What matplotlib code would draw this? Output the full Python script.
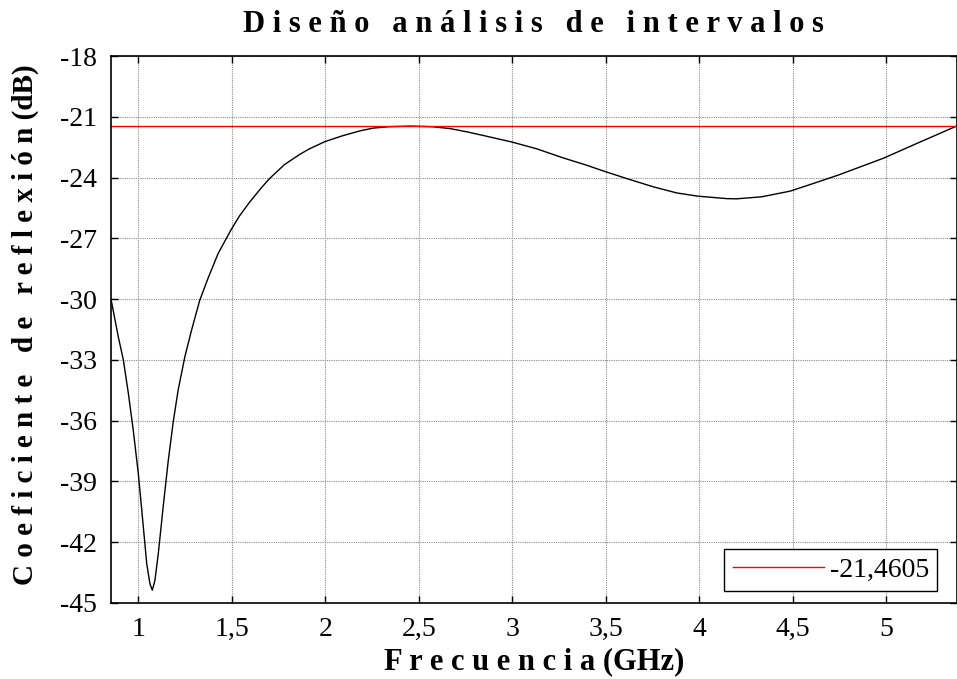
import matplotlib
matplotlib.use("Agg")
import matplotlib.pyplot as plt

plt.rcParams['font.family'] = ['Liberation Serif', 'DejaVu Serif']
plt.rcParams['axes.unicode_minus'] = False

# Frecuencia (GHz) y coeficiente de reflexion (dB) del diseño
freq = [0.855, 0.893, 0.920, 0.947, 0.973, 1.000, 1.027, 1.045, 1.062, 1.075,
        1.089, 1.107, 1.133, 1.160, 1.187, 1.213, 1.249, 1.285, 1.329, 1.374,
        1.427, 1.495, 1.541, 1.595, 1.657, 1.702, 1.782, 1.863, 1.916, 2.000,
        2.095, 2.184, 2.256, 2.340, 2.456, 2.570, 2.666, 2.756, 2.863, 3.000,
        3.131, 3.273, 3.398, 3.493, 3.613, 3.756, 3.881, 3.994, 4.149, 4.200,
        4.335, 4.487, 4.602, 4.744, 4.985, 5.154, 5.377]
s11 = [-30.05, -31.86, -33.00, -34.66, -36.47, -38.60, -41.25, -43.05, -44.04, -44.37,
       -43.88, -42.56, -40.26, -38.00, -36.05, -34.50, -32.85, -31.53, -30.05, -28.95,
       -27.75, -26.60, -25.90, -25.22, -24.52, -24.05, -23.36, -22.86, -22.58, -22.22,
       -21.93, -21.70, -21.56, -21.49, -21.46, -21.49, -21.58, -21.74, -21.96, -22.25,
       -22.58, -23.03, -23.39, -23.69, -24.05, -24.46, -24.76, -24.92, -25.04, -25.05,
       -24.95, -24.67, -24.32, -23.88, -23.05, -22.36, -21.46]

limite = -21.4605
limite_txt = '-21,4605'

xticks = [1, 1.5, 2, 2.5, 3, 3.5, 4, 4.5, 5]
xticklabels = ['1', '1,5', '2', '2,5', '3', '3,5', '4', '4,5', '5']
yticks = [-45, -42, -39, -36, -33, -30, -27, -24, -21, -18]
yticklabels = ['-45', '-42', '-39', '-36', '-33', '-30', '-27', '-24', '-21', '-18']

fig = plt.figure(figsize=(9.57, 6.79), dpi=100)
ax = fig.add_axes([111 / 957, 1 - 603 / 679, 845.5 / 957, 547 / 679])

ax.plot(freq, s11, color='black', lw=1.0)
ax.axhline(limite, color='red', lw=1.0, label=limite_txt)

ax.set_xlim(0.854, 5.377)
ax.set_ylim(-45, -18)
ax.set_xticks(xticks)
ax.set_xticklabels(xticklabels)
ax.set_yticks(yticks)
ax.set_yticklabels(yticklabels)
ax.tick_params(direction='in', top=True, right=True, length=5, width=1,
               labelsize=20, pad=10)
ax.grid(True, color='0.55', linestyle=(0, (1, 1)), lw=0.8)
for s in ax.spines.values():
    s.set_linewidth(1.2)

ax.set_title('D i s e ñ o   a n á l i s i s   d e   i n t e r v a l o s',
             fontsize=22, fontweight='bold', pad=17)
ax.set_xlabel('F r e c u e n c i a (GHz)', fontsize=22, fontweight='bold')
ax.xaxis.set_label_coords(0.5, -0.080)
ax.set_ylabel('C o e f i c i e n t e   d e   r e f l e x i ó n (dB)',
              fontsize=21, fontweight='bold')
ax.yaxis.set_label_coords(-0.085, 0.508)

leg = ax.legend(loc='lower right', bbox_to_anchor=(0.9775, 0.022), borderaxespad=0,
                fancybox=False, fontsize=20, handlelength=3.3, handletextpad=0.2,
                borderpad=0.3, framealpha=1)
leg.get_frame().set_edgecolor('black')
leg.get_frame().set_linewidth(1.0)

fig.savefig('out.png', dpi=100)
